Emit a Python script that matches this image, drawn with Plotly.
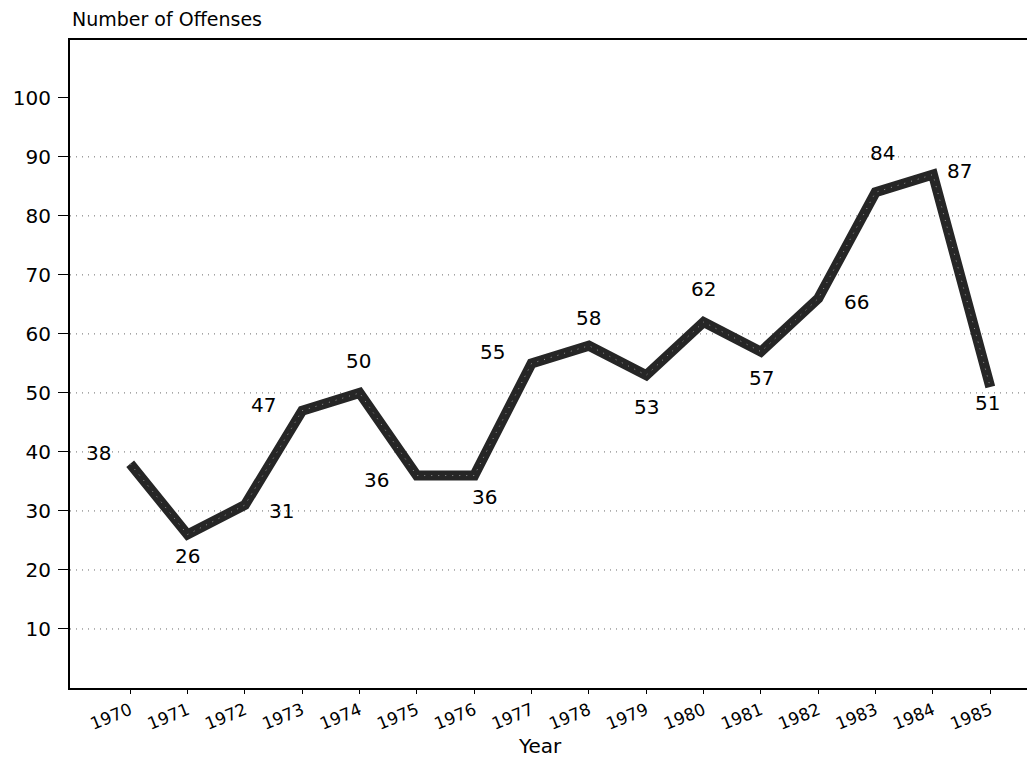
import plotly.graph_objects as go

years = list(range(1970, 1986))
offenses = [38, 26, 31, 47, 50, 36, 36, 55, 58, 53, 62, 57, 66, 84, 87, 51]
y_ticks = [10, 20, 30, 40, 50, 60, 70, 80, 90, 100]
grid_levels = [10, 20, 30, 40, 50, 60, 70, 80, 90]

# pixel offsets (dx right, dy down) of each value label from its point
label_offsets = [(-32, -11), (0, 21), (37, 6), (-39, -6), (-1, -32), (-40, 4),
                 (10, 21), (-39, -11), (0, -28), (0, 32), (0, -33), (1, 26),
                 (38, 4), (7, -39), (27, -4), (-3, 16)]

font = "DejaVu Sans"

fig = go.Figure()

# dotted horizontal guide lines
for lvl in grid_levels:
    fig.add_shape(type="line", xref="paper", x0=0, x1=1, yref="y", y0=lvl, y1=lvl,
                  line=dict(color="#6a6a6a", width=1, dash="1px,5px"), layer="below")

fig.add_trace(go.Scatter(
    x=years, y=offenses, mode="lines",
    line=dict(color="#262626", width=10),
    hoverinfo="x+y", showlegend=False,
))
# speckled texture of the scanned pen stroke
fig.add_trace(go.Scatter(
    x=years, y=offenses, mode="lines",
    line=dict(color="#9a9a9a", width=1, dash="1px,6px"),
    hoverinfo="skip", showlegend=False,
))

for yr, val, (dx, dy) in zip(years, offenses, label_offsets):
    fig.add_annotation(x=yr, y=val, text=str(val), showarrow=False,
                       xshift=dx, yshift=-dy,
                       font=dict(family=font, size=20, color="black"))

fig.add_annotation(x=0, xref="paper", xanchor="left", y=1, yref="paper", yshift=8,
                   yanchor="bottom", text="Number of Offenses", showarrow=False,
                   font=dict(family=font, size=19, color="black"))
fig.add_annotation(x=0.487, xref="paper", y=0, yref="paper", yshift=-58,
                   yanchor="middle", text="Year", showarrow=False,
                   font=dict(family=font, size=20, color="black"))

# the page body adds an 8px margin, so the figure is sized to the remaining window
fig.update_layout(
    width=1027, height=749,
    margin=dict(l=62, r=0, t=32, b=69, autoexpand=False),
    paper_bgcolor="white", plot_bgcolor="white",
    font=dict(family=font, size=18, color="black"),
    xaxis=dict(
        range=[1968.95, 1985.78], tickvals=years, ticktext=[str(y) for y in years],
        tickangle=-22, ticks="outside", ticklen=4, tickcolor="black",
        showline=True, linecolor="black", linewidth=2, mirror=True,
        showgrid=False, zeroline=False, tickfont=dict(size=17), automargin=False,
    ),
    yaxis=dict(
        range=[0, 109.8], tickvals=y_ticks, ticks="outside", ticklen=10,
        tickcolor="black", showline=True, linecolor="black", linewidth=2,
        showgrid=False, zeroline=False, tickfont=dict(size=20), automargin=False,
        ticklabelstandoff=3,
    ),
)

fig.write_html("out.html")
